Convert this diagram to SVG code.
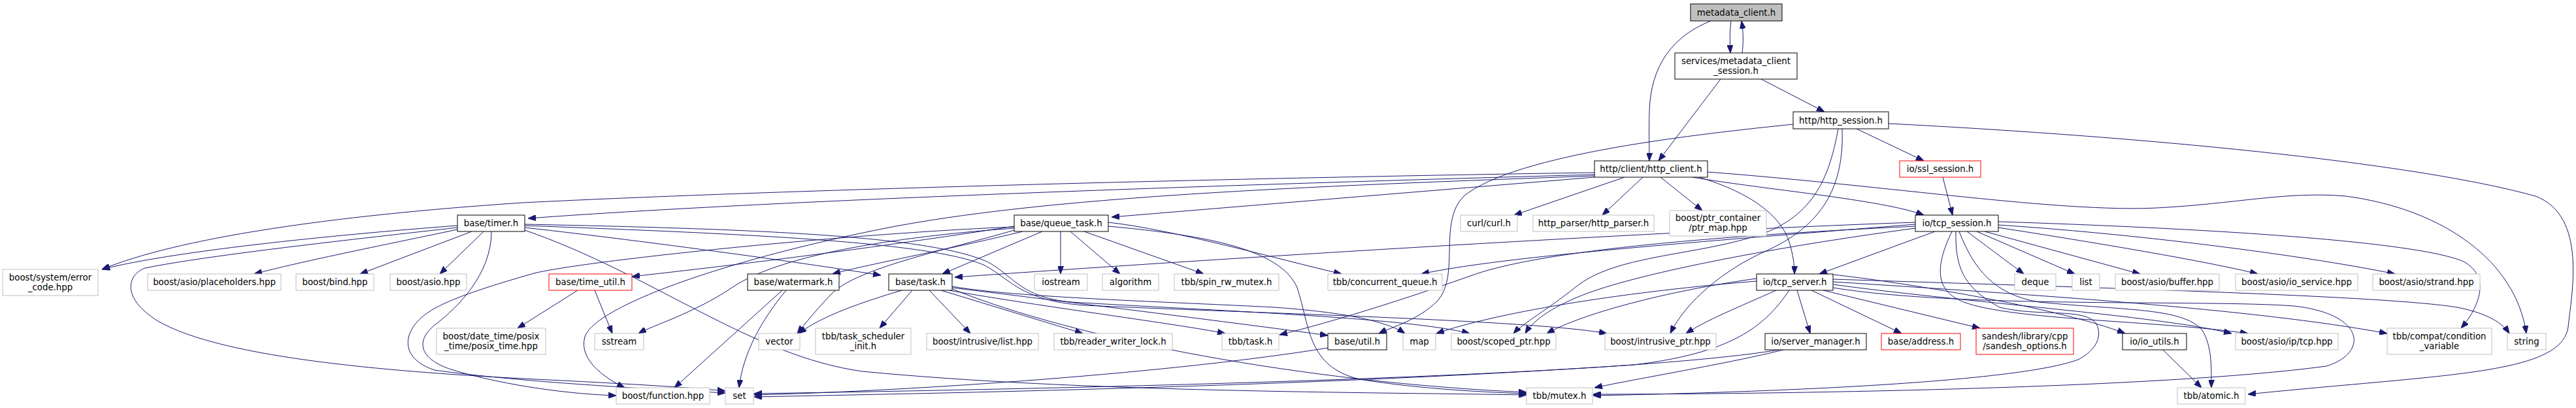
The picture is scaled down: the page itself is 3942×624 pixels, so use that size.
<svg xmlns="http://www.w3.org/2000/svg" width="3942" height="624" viewBox="0 0 3942 624">
<style>
rect{fill:#fff;stroke:#000;stroke-width:1}
.g rect{stroke:#bfbfbf}
.r rect{stroke:#ff0000}
.root rect{fill:#bfbfbf;stroke:#000}
text{font-family:"DejaVu Sans",sans-serif;font-size:13.33px;text-anchor:middle;fill:#000}
#edges path{fill:none;stroke:#191970;stroke-width:1;marker-end:url(#a)}
</style>
<defs>
<marker id="a" viewBox="0 0 12 9" refX="12" refY="4.5" markerWidth="12" markerHeight="9" markerUnits="userSpaceOnUse" orient="auto"><path d="M0,0L12,4.5L0,9z" fill="#191970" stroke="#191970" stroke-width="1"/></marker>
</defs>
<rect x="0" y="0" width="3942" height="624" style="fill:#fff;stroke:none"/>
<g id="edges">
<path d="M2649,32 C2647,48 2647,62 2648,81"/>
<path d="M2666,81 C2668,66 2668,50 2665,32"/>
<path d="M2618,32 C2560,55 2526,100 2524,170 C2523,205 2524,225 2524,246"/>
<path d="M2633,121 L2538,246"/>
<path d="M2695,121 L2792,171"/>
<path d="M2841,197 L2944,246"/>
<path d="M2973,271 L2988,329"/>
<path d="M2590,271 C2700,290 2880,305 2944,329"/>
<path d="M2600,271 C2680,295 2725,330 2738,370 C2744,390 2746,405 2746,419"/>
<path d="M2486,271 L2317,329"/>
<path d="M2514,271 L2452,329"/>
<path d="M2541,271 L2605,322"/>
<path d="M2613,263 C2900,285 3150,325 3300,318 C3420,312 3500,292 3590,300 C3740,320 3850,400 3866,510"/>
<path d="M2440,264 C1900,272 1200,290 800,310 C500,330 270,365 156,412"/>
<path d="M2440,267 C1900,282 1200,305 808,334"/>
<path d="M2440,271 L1701,332"/>
<path d="M2440,269 C2000,285 1600,300 1350,350 C1100,400 910,470 895,515 C885,550 925,578 956,593"/>
<path d="M2744,190 C2600,205 2320,235 2240,300 C2200,340 2235,420 2200,460 C2170,490 2130,500 2110,510"/>
<path d="M2813,197 C2800,265 2780,330 2690,360 C2590,392 2470,390 2410,440 C2370,472 2330,495 2316,510"/>
<path d="M2819,197 C2822,285 2790,345 2700,385 C2640,412 2580,460 2556,510"/>
<path d="M2890,189 C3300,210 3700,250 3880,300 C3960,330 3935,450 3930,500 C3922,560 3800,570 3600,588 C3520,595 3470,600 3440,603"/>
<path d="M700,345 C500,360 260,385 156,412"/>
<path d="M700,348 C550,365 320,390 222,410 C195,420 185,455 240,490 C340,550 620,570 820,580 C960,587 1050,592 1110,598"/>
<path d="M700,351 C600,372 460,400 389,419"/>
<path d="M722,354 L551,419"/>
<path d="M740,354 L673,419"/>
<path d="M752,354 C752,420 700,470 668,495 C635,520 640,548 690,565 C780,592 880,603 943,605"/>
<path d="M803,348 C1000,370 1250,405 1348,421"/>
<path d="M803,352 C1000,420 1150,545 1320,568 C1650,600 2100,600 2336,604"/>
<path d="M803,343 C1150,350 1420,360 1510,400 C1550,420 1560,455 1640,462 C1850,475 2150,485 2249,510"/>
<path d="M803,345 C1150,358 1420,370 1505,405 C1545,425 1560,460 1660,467 C1950,480 2350,490 2459,510"/>
<path d="M1595,354 L1442,419"/>
<path d="M1623,354 L1623,419"/>
<path d="M1638,354 L1714,419"/>
<path d="M1659,354 L1842,419"/>
<path d="M1552,352 C1450,382 1310,410 1272,450 C1248,475 1232,495 1220,510"/>
<path d="M1552,349 C1400,360 1200,385 1120,440 C1060,480 1000,497 977,510"/>
<path d="M1552,346 C1300,385 1100,408 967,423"/>
<path d="M1565,354 C1450,382 1320,406 1274,419"/>
<path d="M1696,340 C1800,352 1950,395 2053,419"/>
<path d="M1552,347 C1300,357 900,398 817,418 C740,440 680,460 655,478 C615,505 610,548 665,566 C800,585 1000,595 1110,601"/>
<path d="M1696,346 C1850,360 1960,382 1985,440 C2005,500 2000,560 2080,580 C2180,596 2280,600 2336,602"/>
<path d="M1380,444 C1320,462 1260,482 1222,510"/>
<path d="M1396,444 L1346,502"/>
<path d="M1422,444 L1485,510"/>
<path d="M1440,444 L1657,510"/>
<path d="M1452,444 C1600,470 1800,495 1875,510"/>
<path d="M1457,440 C1700,470 1900,495 2032,513"/>
<path d="M1457,438 C1550,455 1800,462 1950,470 C2050,477 2120,490 2150,510"/>
<path d="M1457,442 C1650,520 2000,585 2336,600"/>
<path d="M1197,444 L1032,593"/>
<path d="M1203,444 C1165,490 1137,540 1131,593"/>
<path d="M884,444 L792,502"/>
<path d="M910,444 L937,510"/>
<path d="M2032,532 C1800,570 1400,598 1154,604"/>
<path d="M2961,354 L2784,419"/>
<path d="M3010,354 L3097,419"/>
<path d="M3025,354 L3175,419"/>
<path d="M3037,354 L3275,419"/>
<path d="M3058,348 C3200,370 3380,400 3455,419"/>
<path d="M3058,344 C3300,360 3550,395 3665,419"/>
<path d="M3058,339 C3400,350 3700,370 3770,400 C3815,425 3790,475 3766,502"/>
<path d="M2987,354 C2960,410 2962,445 3005,462 C3080,490 3300,490 3440,510"/>
<path d="M2998,354 C3020,410 3050,450 3120,462 C3250,475 3340,470 3370,505 C3385,530 3384,560 3384,593"/>
<path d="M2993,354 C2992,410 3005,440 3060,470 C3120,485 3190,470 3208,495 C3220,520 3200,540 3180,550 C3100,580 2800,598 2438,605"/>
<path d="M2931,340 C2500,355 1800,400 1461,424"/>
<path d="M2931,343 C2600,370 2300,392 2175,419"/>
<path d="M2931,346 C2600,362 2350,385 2250,422 C2100,475 2000,502 1958,512"/>
<path d="M2931,349 C2700,380 2500,420 2420,452 C2370,472 2345,492 2334,510"/>
<path d="M2750,444 L2770,510"/>
<path d="M2772,444 L2910,510"/>
<path d="M2790,444 L3030,502"/>
<path d="M2805,420 C2900,430 3150,470 3252,510"/>
<path d="M2805,435 C3000,462 3300,482 3415,510"/>
<path d="M2805,431 C3100,450 3450,472 3653,510"/>
<path d="M2805,427 C3200,440 3650,452 3760,470 C3810,480 3830,495 3840,510"/>
<path d="M2805,440 C3000,472 3380,458 3510,468 C3620,480 3625,540 3560,560 C3300,595 2700,603 2438,603"/>
<path d="M2688,430 C2500,445 2300,475 2198,510"/>
<path d="M2688,426 C2550,445 2420,480 2367,510"/>
<path d="M2718,444 C2660,470 2610,490 2580,510"/>
<path d="M2738,444 C2700,500 2650,540 2500,558 C2000,592 1400,602 1154,607"/>
<path d="M2729,535 C2650,555 2500,580 2440,593"/>
<path d="M2722,535 C2500,572 1800,592 1154,602"/>
<path d="M3310,535 L3369,593"/>
</g>
<g id="n0" class="root"><rect x="2587" y="6" width="140" height="26"/><text x="2657" y="24">metadata_client.h</text></g>
<g id="n1"><rect x="2563" y="81" width="187" height="40"/><text x="2656.5" y="98">services/metadata_client</text><text x="2656.5" y="113">_session.h</text></g>
<g id="n2"><rect x="2440" y="246" width="173" height="25"/><text x="2526.5" y="263">http/client/http_client.h</text></g>
<g id="n3"><rect x="2744" y="171" width="146" height="26"/><text x="2817" y="189">http/http_session.h</text></g>
<g id="n4" class="r"><rect x="2907" y="246" width="124" height="25"/><text x="2969" y="263">io/ssl_session.h</text></g>
<g id="n5"><rect x="700" y="329" width="103" height="25"/><text x="751.5" y="346">base/timer.h</text></g>
<g id="n6"><rect x="1552" y="329" width="144" height="25"/><text x="1624" y="346">base/queue_task.h</text></g>
<g id="n7" class="g"><rect x="2235" y="329" width="87" height="25"/><text x="2278.5" y="346">curl/curl.h</text></g>
<g id="n8" class="g"><rect x="2346" y="329" width="185" height="25"/><text x="2438.5" y="346">http_parser/http_parser.h</text></g>
<g id="n9" class="g"><rect x="2555" y="322" width="148" height="39"/><text x="2629" y="338">boost/ptr_container</text><text x="2629" y="353">/ptr_map.hpp</text></g>
<g id="n10"><rect x="2931" y="329" width="127" height="25"/><text x="2994.5" y="346">io/tcp_session.h</text></g>
<g id="n11" class="g"><rect x="4" y="412" width="146" height="40"/><text x="77" y="429">boost/system/error</text><text x="77" y="444">_code.hpp</text></g>
<g id="n12" class="g"><rect x="226" y="419" width="204" height="25"/><text x="328" y="436">boost/asio/placeholders.hpp</text></g>
<g id="n13" class="g"><rect x="453" y="419" width="119" height="25"/><text x="512.5" y="436">boost/bind.hpp</text></g>
<g id="n14" class="g"><rect x="597" y="419" width="117" height="25"/><text x="655.5" y="436">boost/asio.hpp</text></g>
<g id="n15" class="r"><rect x="840" y="419" width="127" height="25"/><text x="903.5" y="436">base/time_util.h</text></g>
<g id="n16"><rect x="1144" y="419" width="140" height="25"/><text x="1214" y="436">base/watermark.h</text></g>
<g id="n17"><rect x="1360" y="419" width="97" height="25"/><text x="1408.5" y="436">base/task.h</text></g>
<g id="n18" class="g"><rect x="1583" y="419" width="81" height="25"/><text x="1623.5" y="436">iostream</text></g>
<g id="n19" class="g"><rect x="1687" y="419" width="86" height="25"/><text x="1730" y="436">algorithm</text></g>
<g id="n20" class="g"><rect x="1797" y="419" width="160" height="25"/><text x="1877" y="436">tbb/spin_rw_mutex.h</text></g>
<g id="n21" class="g"><rect x="2032" y="419" width="175" height="25"/><text x="2119.5" y="436">tbb/concurrent_queue.h</text></g>
<g id="n22"><rect x="2688" y="419" width="117" height="25"/><text x="2746.5" y="436">io/tcp_server.h</text></g>
<g id="n23" class="g"><rect x="3083" y="419" width="63" height="25"/><text x="3114.5" y="436">deque</text></g>
<g id="n24" class="g"><rect x="3171" y="419" width="42" height="25"/><text x="3192" y="436">list</text></g>
<g id="n25" class="g"><rect x="3237" y="419" width="159" height="25"/><text x="3316.5" y="436">boost/asio/buffer.hpp</text></g>
<g id="n26" class="g"><rect x="3421" y="419" width="187" height="25"/><text x="3514.5" y="436">boost/asio/io_service.hpp</text></g>
<g id="n27" class="g"><rect x="3631" y="419" width="164" height="25"/><text x="3713" y="436">boost/asio/strand.hpp</text></g>
<g id="n28" class="g"><rect x="668" y="502" width="167" height="40"/><text x="751.5" y="519">boost/date_time/posix</text><text x="751.5" y="534">_time/posix_time.hpp</text></g>
<g id="n29" class="g"><rect x="910" y="510" width="75" height="25"/><text x="947.5" y="527">sstream</text></g>
<g id="n30" class="g"><rect x="1161" y="510" width="63" height="25"/><text x="1192.5" y="527">vector</text></g>
<g id="n31" class="g"><rect x="1248" y="502" width="146" height="40"/><text x="1321" y="519">tbb/task_scheduler</text><text x="1321" y="534">_init.h</text></g>
<g id="n32" class="g"><rect x="1418" y="510" width="171" height="25"/><text x="1503.5" y="527">boost/intrusive/list.hpp</text></g>
<g id="n33" class="g"><rect x="1613" y="510" width="181" height="25"/><text x="1703.5" y="527">tbb/reader_writer_lock.h</text></g>
<g id="n34" class="g"><rect x="1870" y="510" width="87" height="25"/><text x="1913.5" y="527">tbb/task.h</text></g>
<g id="n35"><rect x="2032" y="510" width="90" height="25"/><text x="2077" y="527">base/util.h</text></g>
<g id="n36" class="g"><rect x="2147" y="510" width="50" height="25"/><text x="2172" y="527">map</text></g>
<g id="n37" class="g"><rect x="2221" y="510" width="160" height="25"/><text x="2301" y="527">boost/scoped_ptr.hpp</text></g>
<g id="n38" class="g"><rect x="2456" y="510" width="170" height="25"/><text x="2541" y="527">boost/intrusive_ptr.hpp</text></g>
<g id="n39"><rect x="2701" y="510" width="155" height="25"/><text x="2778.5" y="527">io/server_manager.h</text></g>
<g id="n40" class="r"><rect x="2879" y="510" width="121" height="25"/><text x="2939.5" y="527">base/address.h</text></g>
<g id="n41" class="r"><rect x="3024" y="502" width="149" height="40"/><text x="3098.5" y="519">sandesh/library/cpp</text><text x="3098.5" y="534">/sandesh_options.h</text></g>
<g id="n42"><rect x="3248" y="510" width="98" height="25"/><text x="3297" y="527">io/io_utils.h</text></g>
<g id="n43" class="g"><rect x="3421" y="510" width="157" height="25"/><text x="3499.5" y="527">boost/asio/ip/tcp.hpp</text></g>
<g id="n44" class="g"><rect x="3653" y="502" width="160" height="40"/><text x="3733" y="519">tbb/compat/condition</text><text x="3733" y="534">_variable</text></g>
<g id="n45" class="g"><rect x="3837" y="510" width="59" height="25"/><text x="3866.5" y="527">string</text></g>
<g id="n46" class="g"><rect x="943" y="593" width="143" height="25"/><text x="1014.5" y="610">boost/function.hpp</text></g>
<g id="n47" class="g"><rect x="1110" y="593" width="43" height="25"/><text x="1131.5" y="610">set</text></g>
<g id="n48" class="g"><rect x="2336" y="593" width="101" height="25"/><text x="2386.5" y="610">tbb/mutex.h</text></g>
<g id="n49" class="g"><rect x="3332" y="593" width="104" height="25"/><text x="3384" y="610">tbb/atomic.h</text></g>
</svg>
